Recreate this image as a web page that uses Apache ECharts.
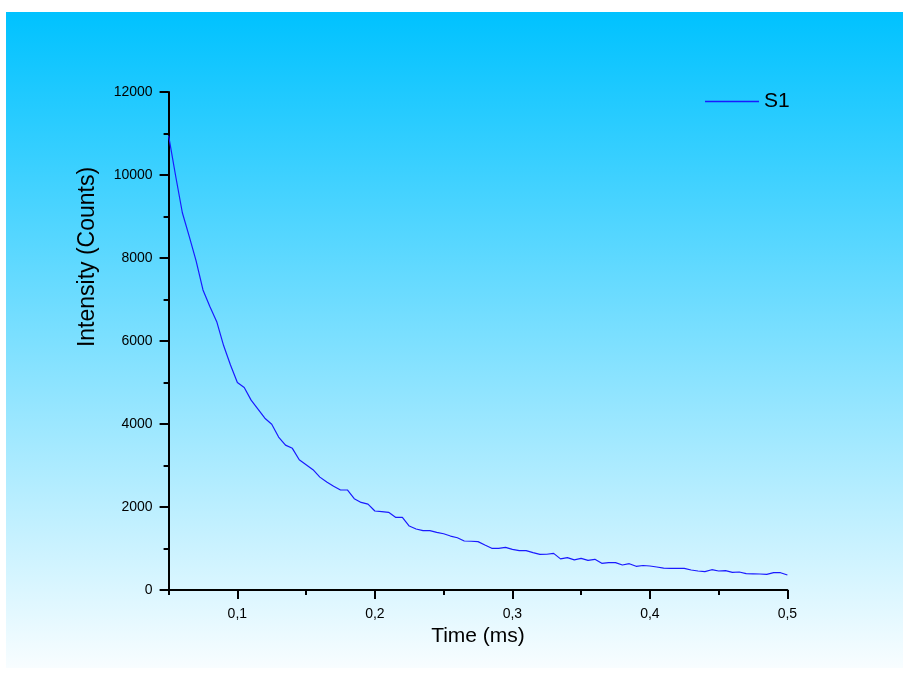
<!DOCTYPE html>
<html>
<head>
<meta charset="utf-8">
<script src="https://cdn.jsdelivr.net/npm/echarts@6/dist/echarts.min.js"></script>
<style>html,body{margin:0;padding:0;background:#fff;}#c{width:903px;height:675px;}</style>
</head>
<body>
<div id="c"></div>
<script>
var seriesName = 'S1';
var timeMs = [];
for (var i = 0; i <= 90; i++) { timeMs.push(+(0.05 + i * 0.005).toFixed(3)); }
var intensity = [
  10950, 10000, 9090, 8520, 7930, 7230, 6830, 6465, 5890, 5420,
  5000, 4880, 4575, 4360, 4140, 3995, 3685, 3490, 3414, 3140,
  3020, 2900, 2720, 2600, 2500, 2410, 2410, 2200, 2110, 2068,
  1904, 1890, 1872, 1751, 1751, 1542, 1470, 1430, 1430, 1390,
  1355, 1300, 1260, 1181, 1175, 1165, 1084, 1004, 1004, 1028,
  980, 950, 948, 900, 860, 862, 883, 750, 779, 725,
  763, 715, 739, 643, 659, 659, 602, 634, 571, 590,
  578, 554, 525, 523, 523, 520, 482, 458, 441, 489,
  458, 465, 426, 434, 393, 390, 386, 378, 417, 417,
  361
];
var xMajorTicks = [0.1, 0.2, 0.3, 0.4, 0.5];
var xMinorTicks = [0.05, 0.15, 0.25, 0.35, 0.45];
var xTitle = 'Time (ms)';
var yTitle = 'Intensity (Counts)';

var data = timeMs.map(function (t, i) { return [t, intensity[i]]; });
var font = 'Liberation Sans, Arial, sans-serif';
var chart = echarts.init(document.getElementById('c'), null, {renderer: 'canvas'});
chart.setOption({
  animation: false,
  backgroundColor: '#ffffff',
  graphic: [{
    type: 'rect', z: -10, silent: true,
    shape: {x: 6, y: 12, width: 897, height: 656},
    style: {fill: new echarts.graphic.LinearGradient(0, 0, 0, 1, [
      {offset: 0, color: '#00c2ff'},
      {offset: 1, color: '#f8fdff'}
    ])}
  }],
  grid: {left: 168.6, right: 115.6, top: 92, bottom: 85, containLabel: false},
  legend: {
    left: 700, top: 86, itemWidth: 54, itemHeight: 14, itemGap: 10,
    icon: 'path://M0,0 L54,0 L54,1.4 L0,1.4 Z',
    textStyle: {fontSize: 21, color: '#000', fontFamily: font},
    data: [seriesName]
  },
  xAxis: [{
    type: 'value', min: 0.05, max: 0.5,
    name: xTitle, nameLocation: 'middle', nameGap: 36,
    nameTextStyle: {fontSize: 21, color: '#000', fontFamily: font},
    axisLine: {show: true, onZero: false, lineStyle: {color: '#000', width: 2}},
    axisTick: {show: true, length: 9, customValues: xMajorTicks, lineStyle: {color: '#000', width: 2}},
    axisLabel: {show: true, customValues: xMajorTicks, margin: 17, fontSize: 14, color: '#000', fontFamily: font,
      formatter: function (v) { return String(Math.round(v * 10) / 10).replace('.', ','); }},
    splitLine: {show: false}
  }, {
    type: 'value', min: 0.05, max: 0.5, position: 'bottom',
    axisLine: {show: false},
    axisTick: {show: true, length: 5, customValues: xMinorTicks, lineStyle: {color: '#000', width: 2}},
    axisLabel: {show: false},
    splitLine: {show: false}
  }],
  yAxis: {
    type: 'value', min: 0, max: 12000, interval: 2000,
    name: yTitle, nameLocation: 'middle', nameGap: 69, nameRotate: 90,
    nameTextStyle: {fontSize: 23, color: '#000', fontFamily: font, padding: [0, 0, 0, 168]},
    axisLine: {show: true, lineStyle: {color: '#000', width: 2}},
    axisTick: {show: true, length: 9, lineStyle: {color: '#000', width: 2}},
    minorTick: {show: true, splitNumber: 2, length: 5, lineStyle: {color: '#000', width: 2}},
    axisLabel: {margin: 16, fontSize: 14, color: '#000', fontFamily: font,
      formatter: function (v) { return String(v); }},
    splitLine: {show: false}
  },
  series: [{
    name: seriesName, type: 'line', data: data, xAxisIndex: 0,
    showSymbol: false, symbol: 'none',
    lineStyle: {color: '#1a1aff', width: 1.2},
    itemStyle: {color: '#1a1aff'}
  }]
});
</script>
</body>
</html>
